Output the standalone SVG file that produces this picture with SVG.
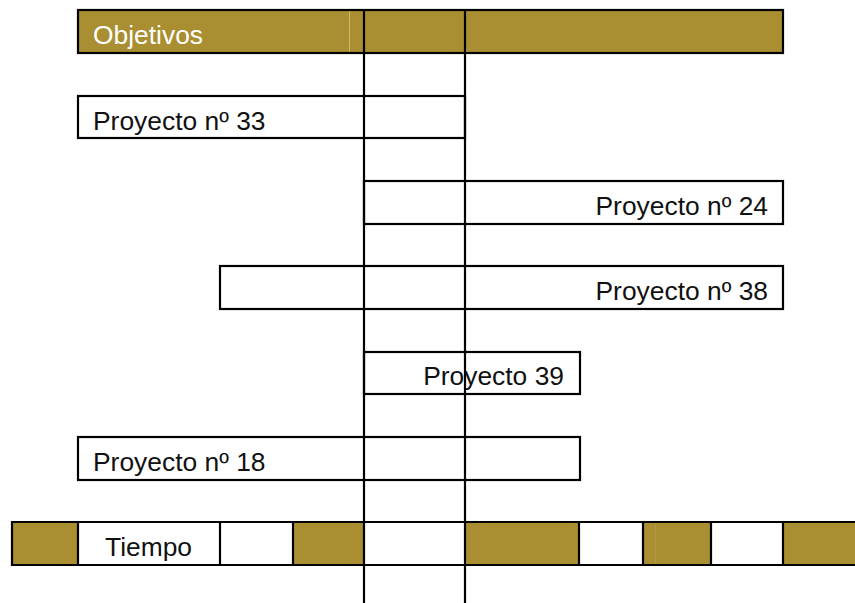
<svg xmlns="http://www.w3.org/2000/svg" width="855" height="603" viewBox="0 0 855 603">
<style>
.gold{fill:#A98E32;}
.box{fill:none;stroke:#000;stroke-width:2.2;}
.ln{stroke:#000;stroke-width:2.2;fill:none;}
.faint{stroke:#CDB76A;stroke-width:1;}
.t{font-family:"Liberation Sans",Arial,sans-serif;font-size:26.4px;fill:#111;}
.w{fill:#fff;}
.r{text-anchor:end;}
</style>
<rect width="855" height="603" fill="#fff"/>
<g id="objetivos">
<rect class="gold" x="78" y="10" width="705" height="43"/>
<line class="faint" x1="349.5" y1="11" x2="349.5" y2="52"/>
<rect class="box" x="78" y="10" width="705" height="43"/>
<text class="t w" x="93" y="43.5">Objetivos</text>
</g>
<g id="tiempo">
<rect class="gold" x="12" y="522" width="66" height="43"/>
<rect class="gold" x="293" y="522" width="71" height="43"/>
<rect class="gold" x="465" y="522" width="114" height="43"/>
<rect class="gold" x="643" y="522" width="68" height="43"/>
<rect class="gold" x="783" y="522" width="72" height="43"/>
<line class="faint" x1="655.5" y1="523" x2="655.5" y2="564" style="stroke:#B39A42"/>
<line class="ln" x1="12" y1="522" x2="855" y2="522"/>
<line class="ln" x1="12" y1="565" x2="855" y2="565"/>
<line class="ln" x1="12" y1="521" x2="12" y2="566"/>
<line class="ln" x1="78" y1="522" x2="78" y2="565"/>
<line class="ln" x1="220" y1="522" x2="220" y2="565"/>
<line class="ln" x1="293" y1="522" x2="293" y2="565"/>
<line class="ln" x1="579" y1="522" x2="579" y2="565"/>
<line class="ln" x1="643" y1="522" x2="643" y2="565"/>
<line class="ln" x1="711" y1="522" x2="711" y2="565"/>
<line class="ln" x1="783" y1="522" x2="783" y2="565"/>
<text class="t" x="105" y="555.5">Tiempo</text>
</g>
<g id="p33">
<rect class="box" x="78" y="96" width="387" height="42"/>
<text class="t" x="93" y="129.5">Proyecto nº 33</text>
</g>
<g id="p24">
<rect class="box" x="364" y="181" width="419" height="43"/>
<text class="t r" x="768" y="214.5">Proyecto nº 24</text>
</g>
<g id="p38">
<rect class="box" x="220" y="266" width="563" height="43"/>
<text class="t r" x="768" y="299.5">Proyecto nº 38</text>
</g>
<g id="p39">
<rect class="box" x="364" y="352" width="216" height="42"/>
<text class="t r" x="564" y="385">Proyecto 39</text>
</g>
<g id="p18">
<rect class="box" x="78" y="437" width="502" height="43"/>
<text class="t" x="93" y="470.5">Proyecto nº 18</text>
</g>
<g id="connectors">
<line class="ln" x1="364" y1="10" x2="364" y2="603"/>
<line class="ln" x1="465" y1="10" x2="465" y2="603"/>
</g>
</svg>
